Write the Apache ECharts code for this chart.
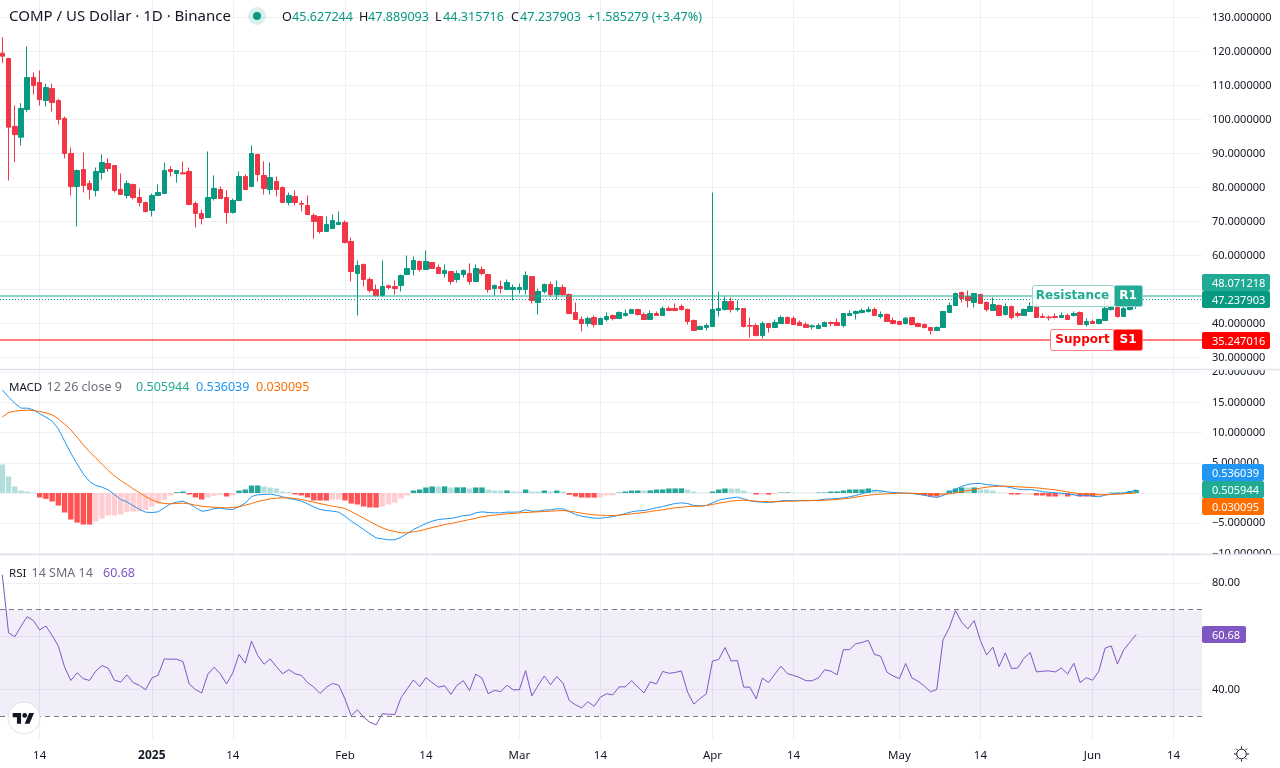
<!DOCTYPE html>
<html>
<head>
<meta charset="utf-8">
<title>COMP / US Dollar</title>
<style>
html, body { margin: 0; padding: 0; background: #fff; }
#main { width: 1280px; height: 768px; }
</style>
<script src="https://cdn.jsdelivr.net/npm/echarts@6/dist/echarts.min.js"></script>
</head>
<body>
<div id="main"></div>
<script>
// daily bars, Dec 8 2024 (index 0) to Jun 8 2025
var opens = [
119.51,117.94,97.94,94.80,102.94,112.35,110.88,105.59,109.12,105.59,
100.29,90.0,80.29,85.29,81.18,79.12,84.41,87.06,86.47,79.41,
77.65,80.88,77.06,75.59,73.24,77.65,78.24,85.29,84.12,84.31,
84.71,75.29,72.35,71.18,76.76,79.41,77.06,72.65,76.18,83.24,
80.29,89.71,83.53,79.41,81.76,80.0,75.59,77.35,75.29,74.71,
71.76,71.47,67.06,67.94,69.12,69.71,64.12,54.71,57.35,52.94,
50.0,48.24,51.08,50.88,51.18,54.41,55.88,58.24,55.88,57.94,
56.47,54.71,55.29,52.94,54.41,54.71,52.35,55.88,54.41,50.29,
50.88,50.0,50.0,50.0,50.0,53.82,46.18,49.41,51.47,48.53,
50.59,48.53,43.24,41.18,40.0,41.76,39.71,41.18,42.35,41.47,
42.35,42.94,44.12,42.65,41.18,42.94,42.35,44.41,44.41,45.0,
44.12,40.88,38.24,38.82,39.12,43.82,44.12,46.47,44.12,44.41,
39.41,39.41,36.47,40.0,38.82,40.0,41.76,41.47,40.29,39.71,
39.02,38.53,39.12,40.29,40.29,39.41,42.35,42.94,43.24,43.53,
44.12,42.06,42.65,40.88,40.59,40.0,41.76,40.0,39.71,38.82,
37.94,38.82,43.24,45.29,49.12,47.94,46.18,48.53,46.18,43.82,
45.29,42.65,45.0,42.94,42.35,43.53,45.0,42.06,41.86,42.06,
41.76,42.35,42.35,43.24,39.71,40.59,40.0,40.88,44.12,44.71,
42.06,44.12,45.627244];
var closes = [
118.63,97.75,95.59,103.24,112.35,110.0,105.88,109.41,105.0,100.0,
90.0,80.29,85.0,80.59,79.41,84.71,87.35,85.59,79.12,77.94,
81.18,77.06,75.59,72.94,77.65,78.53,85.0,84.71,85.0,84.02,
75.0,72.35,70.88,77.06,79.71,76.76,72.65,76.18,83.24,79.41,
90.0,83.82,79.71,82.94,79.41,75.59,77.65,75.59,75.10,72.06,
70.0,67.06,69.12,70.29,69.71,63.82,55.29,57.06,52.94,49.71,
48.24,50.88,50.59,50.29,54.12,56.18,58.53,55.88,58.24,56.18,
54.71,55.59,52.35,54.71,55.59,52.35,56.18,54.71,50.0,51.18,
50.29,52.06,50.59,50.59,54.12,46.76,49.41,51.47,48.53,50.59,
48.53,42.94,41.18,40.0,41.47,39.71,41.47,42.06,41.47,43.24,
42.94,44.12,42.65,41.18,42.94,42.35,44.41,43.82,43.82,44.12,
40.59,37.94,39.12,39.41,44.12,44.41,46.47,44.12,44.41,39.12,
39.22,36.47,40.0,38.82,40.29,41.76,40.0,39.71,39.41,38.82,
39.31,39.41,40.29,40.0,39.41,42.94,42.94,43.53,43.82,44.12,
42.35,42.65,40.59,40.0,39.71,41.57,39.71,39.12,38.82,37.94,
38.82,43.53,45.29,48.82,47.35,46.76,48.82,45.88,44.12,45.59,
42.35,45.0,41.76,42.35,44.12,45.0,41.76,41.76,41.67,41.76,
42.35,41.18,42.94,39.71,40.59,40.0,41.18,44.41,44.71,42.06,
44.41,45.78,47.237903];
var highs = [
124.22,118.14,104.12,104.80,121.47,113.82,114.41,110.49,110.49,106.08,
100.88,91.76,85.29,90.29,82.06,85.88,89.71,88.53,86.47,84.12,
82.06,81.18,79.71,75.88,78.24,80.88,87.35,86.18,85.0,87.65,
85.88,75.88,73.53,90.59,83.53,80.29,79.12,76.76,84.71,83.82,
92.35,90.0,87.65,87.35,83.24,80.29,78.53,79.12,76.18,77.65,
72.35,71.47,71.47,72.06,72.94,70.29,65.29,58.53,57.65,53.53,
51.47,58.53,51.47,52.65,54.41,60.0,59.71,58.53,61.47,57.94,
57.35,57.35,55.29,55.59,55.88,57.65,57.35,56.76,54.41,51.47,
52.65,52.94,51.47,51.76,55.29,53.82,50.29,51.76,52.35,52.65,
51.47,48.82,46.18,42.06,42.06,42.35,41.76,43.24,42.65,43.53,
44.12,44.12,44.12,43.24,43.82,43.53,45.0,45.0,45.88,45.59,
44.41,41.18,39.41,40.0,78.53,49.41,47.94,47.65,46.76,44.41,
41.76,40.0,40.59,40.0,41.18,42.35,42.06,42.06,40.88,40.29,
39.71,40.0,40.59,40.59,41.47,42.94,43.82,43.82,44.41,45.0,
44.71,43.53,42.94,41.76,40.88,41.86,41.76,40.29,40.0,38.82,
39.12,43.53,46.18,49.12,49.41,49.71,48.82,48.53,46.47,47.65,
45.59,45.88,45.29,43.53,44.41,46.18,46.18,42.94,42.35,42.94,
43.24,42.94,43.53,43.53,41.47,41.18,41.18,46.76,46.76,46.76,
47.25,46.76,47.889093];
var lows = [
116.57,82.06,87.45,92.35,102.16,107.35,104.12,103.82,102.35,98.53,
88.53,77.65,68.53,78.53,76.47,77.35,82.35,84.71,78.53,77.94,
76.76,76.47,74.41,72.65,71.47,77.65,78.24,83.24,81.47,83.82,
75.0,68.24,69.12,71.18,76.18,76.76,69.41,72.35,76.18,79.41,
80.29,81.76,77.94,77.94,77.35,75.59,74.71,74.71,72.94,72.06,
65.0,66.47,67.06,67.94,69.12,63.53,52.35,42.35,50.88,49.12,
47.94,47.94,50.0,48.53,49.41,54.41,54.12,55.29,55.88,56.18,
54.71,53.53,51.47,52.06,53.53,51.47,52.35,54.12,49.12,48.24,
48.82,50.0,46.76,48.82,48.53,45.88,42.65,48.82,47.94,47.06,
48.24,42.94,41.18,37.65,39.12,38.82,39.71,40.59,40.88,41.47,
42.06,42.94,42.35,41.18,41.18,42.35,42.35,43.82,43.82,43.82,
39.71,37.94,38.24,37.94,39.12,42.06,43.82,43.24,43.53,38.82,
35.88,36.18,35.59,37.35,38.82,40.0,40.0,39.71,39.41,38.82,
38.24,38.53,39.12,39.12,39.41,38.82,42.35,41.18,42.94,43.24,
42.35,41.47,40.59,39.71,39.71,39.71,39.41,39.12,38.53,36.76,
37.94,38.82,43.24,45.29,46.18,44.71,44.71,45.88,43.53,43.82,
42.35,42.35,41.18,41.76,42.35,43.53,41.76,41.76,40.88,41.47,
41.76,41.18,42.06,39.71,39.12,40.0,39.71,40.88,43.82,41.76,
42.06,43.82,44.315716];

// MACD pane
var macdLine = [
17.08,15.87,14.87,14.05,14.05,13.77,13.11,12.56,11.89,10.62,
8.58,6.60,4.83,3.17,1.90,1.24,0.97,0.52,-0.25,-1.08,
-1.46,-2.12,-2.68,-3.17,-3.23,-3.12,-2.46,-1.79,-1.52,-1.35,
-1.79,-2.40,-3.01,-2.90,-2.57,-2.51,-2.68,-2.73,-2.24,-1.68,
-0.58,-0.30,-0.25,-0.19,-0.36,-0.63,-0.91,-1.08,-1.35,-1.79,
-2.29,-2.73,-2.90,-3.01,-3.17,-3.84,-4.66,-5.33,-6.04,-6.76,
-7.42,-7.59,-7.75,-7.75,-7.31,-6.71,-6.04,-5.55,
-5.05,-4.66,-4.39,-4.28,-4.22,-4.00,-3.73,-3.67,-3.28,-3.12,
-3.23,-3.28,-3.28,-3.17,-3.17,-3.12,-2.79,-3.01,-3.01,-2.84,
-2.79,-2.62,-2.62,-3.06,-3.56,-3.84,-4.00,-4.17,-4.17,-4.06,
-3.89,-3.67,-3.39,-3.12,-2.95,-2.90,-2.68,-2.46,-2.24,-1.96,
-1.74,-1.63,-1.74,-2.07,-2.12,-2.07,-1.63,-1.19,-0.97,-0.80,
-0.69,-0.97,-1.30,-1.46,-1.52,-1.57,-1.46,-1.30,-1.24,-1.24,
-1.24,-1.24,-1.24,-1.19,-1.02,-0.97,-0.91,
-0.80,-0.63,-0.41,-0.14,0.19,0.41,0.36,0.19,0.08,0.03,
-0.03,-0.08,-0.19,-0.36,-0.58,-0.75,-0.41,0.03,0.63,1.08,
1.41,1.57,1.57,1.41,1.30,1.19,1.08,0.86,0.63,0.52,
0.58,0.41,0.19,0.14,0.03,-0.03,-0.14,-0.30,-0.47,-0.36,
-0.52,-0.63,-0.36,-0.14,-0.08,-0.03,0.19,0.536039];
var signalLine = [
12.56,13.33,13.55,13.66,13.71,13.66,13.49,13.27,12.94,12.28,
11.40,10.46,9.24,7.97,6.82,5.82,4.77,3.73,2.84,2.07,
1.41,0.69,0.08,-0.58,-1.13,-1.52,-1.74,-1.79,-1.74,-1.68,
-1.79,-2.01,-2.18,-2.29,-2.35,-2.40,-2.46,-2.40,-2.29,-2.01,
-1.74,-1.41,-1.19,-0.97,-0.86,-0.80,-0.80,-0.91,-1.08,-1.30,
-1.52,-1.74,-1.96,-2.18,-2.35,-2.57,-3.06,-3.61,-4.17,-4.72,
-5.27,-5.77,-6.15,-6.37,-6.60,-6.60,-6.43,-6.26,
-5.99,-5.71,-5.49,-5.22,-5.05,-4.83,-4.61,-4.39,-4.17,-3.95,
-3.78,-3.67,-3.56,-3.45,-3.39,-3.28,-3.23,-3.17,-3.12,-3.06,
-3.01,-2.95,-2.90,-3.01,-3.17,-3.34,-3.50,-3.61,-3.67,-3.73,
-3.73,-3.67,-3.56,-3.45,-3.34,-3.23,-3.06,-2.90,-2.79,-2.62,
-2.46,-2.35,-2.24,-2.18,-2.18,-2.07,-1.90,-1.68,-1.52,-1.35,
-1.24,-1.19,-1.24,-1.35,-1.41,-1.46,-1.46,-1.41,-1.35,-1.35,
-1.30,-1.30,-1.24,-1.24,-1.19,-1.13,-1.08,
-0.97,-0.86,-0.69,-0.52,-0.36,-0.25,-0.19,-0.14,-0.08,-0.03,
-0.03,-0.03,-0.08,-0.14,-0.19,-0.25,-0.19,-0.14,0.03,0.19,
0.41,0.58,0.80,0.97,1.08,1.13,1.13,1.08,1.02,0.97,
0.91,0.86,0.75,0.63,0.52,0.36,0.19,0.03,-0.14,-0.19,
-0.25,-0.30,-0.30,-0.25,-0.19,-0.14,-0.08,0.030095];
var macdHist = [
4.72,2.73,1.08,0.41,0.25,0.08,-0.74,-0.97,-1.41,-2.07,
-3.23,-4.39,-4.89,-5.22,-5.23,-4.72,-4.22,-3.73,-3.72,-3.56,
-3.12,-3.06,-3.05,-2.79,-2.24,-1.74,-1.08,-0.41,0.14,0.25,
-0.25,-0.74,-1.08,-0.74,-0.47,-0.30,-0.58,-0.41,0.41,0.58,
1.24,1.25,1.08,0.91,0.74,0.25,0.14,-0.25,-0.41,-0.74,
-1.24,-1.25,-1.26,-1.08,-1.07,-1.24,-1.74,-1.90,-2.24,-2.40,
-2.41,-2.24,-1.90,-1.59,-0.91,-0.41,0.41,0.58,0.91,1.08,
1.07,1.10,0.91,0.93,0.94,0.75,0.91,0.92,0.58,0.41,
0.40,0.42,0.25,0.24,0.58,0.25,0.24,0.41,0.25,0.41,
0.25,-0.30,-0.58,-0.75,-0.76,-0.77,-0.74,-0.41,-0.40,0.08,
0.25,0.41,0.42,0.41,0.43,0.58,0.59,0.75,0.76,0.77,
0.58,0.25,0.08,0.07,0.25,0.58,0.75,0.74,0.73,0.41,
0.08,-0.25,-0.24,-0.26,-0.20,0.08,0.09,0.08,0.07,0.06,
0.05,0.08,0.09,0.25,0.26,0.41,0.58,0.59,0.60,0.75,
0.58,0.41,0.08,0.07,0.06,0.02,-0.08,-0.25,-0.41,-0.58,
-0.59,-0.30,0.41,0.75,0.91,0.90,0.92,0.58,0.57,0.41,
0.08,0.07,-0.25,-0.26,-0.25,-0.24,-0.41,-0.42,-0.58,-0.59,
-0.41,-0.58,-0.41,-0.58,-0.59,-0.60,-0.41,-0.25,0.08,0.09,
0.10,0.33,0.505944];

// RSI pane
var rsiLine = [
83.1,61.3,59.8,63.8,67.4,65.9,62.4,63.9,60.3,56.3,
48.4,43.4,46.3,44.1,43.4,46.9,49.0,48.0,43.5,42.8,
45.5,42.6,41.6,39.9,44.3,45.4,51.5,51.4,51.4,50.5,
42.1,40.0,38.7,45.8,48.4,45.9,42.1,46.3,53.2,49.9,
58.2,52.8,49.5,51.5,48.6,45.9,47.5,45.9,45.3,42.6,
40.9,38.5,40.8,42.3,41.6,36.5,30.1,32.4,29.6,27.7,
26.7,30.9,30.7,30.6,36.9,40.3,43.6,41.1,
44.5,42.6,40.9,41.4,38.2,41.6,43.3,39.6,45.8,44.3,
38.4,39.7,39.2,41.6,39.9,39.9,47.1,37.6,41.5,45.1,
41.8,44.9,42.4,35.9,34.2,33.1,35.4,33.7,37.1,38.4,
38.0,41.0,41.0,43.3,41.0,38.7,42.9,42.1,46.8,46.1,
46.4,47.0,39.0,34.5,36.6,38.4,50.7,51.3,55.8,50.7,
50.9,40.9,40.9,36.5,44.3,42.6,45.8,48.8,46.0,45.3,
44.5,43.3,43.3,44.4,47.4,46.9,45.5,
55.0,55.0,57.2,57.7,58.5,53.2,52.5,46.5,45.1,44.1,
49.8,44.4,43.1,41.3,39.2,40.0,58.7,63.2,69.7,65.3,
62.8,65.9,58.4,53.0,55.9,48.6,53.8,47.9,48.1,51.8,
53.9,46.6,46.9,47.0,46.6,48.1,45.8,49.9,42.6,44.4,
43.5,46.8,55.5,56.4,49.6,54.9,57.8,60.68];

// levels and header values
var resistanceLevel = 48.071218;
var supportLevel = 35.247016;
var lastPrice = 47.237903;
var rsiUpper = 70;
var rsiLower = 30;

// axis ticks: x is the day index counted from Dec 8 2024
var tickDays = [6, 24, 37, 55, 68, 83, 96, 114, 127, 144, 157, 175, 188];
var tickLabels = ['14', '2025', '14', 'Feb', '14', 'Mar', '14', 'Apr', '14', 'May', '14', 'Jun', '14'];
var priceGrid = [30, 40, 50, 60, 70, 80, 90, 100, 110, 120, 130];
var priceTicks = [30, 40, 60, 70, 80, 90, 100, 110, 120, 130];
var macdGrid = [-10, -5, 0, 5, 10, 15, 20];
var macdTicks = [-10, -5, 5, 10, 15, 20];
var rsiGrid = [40, 60, 80];
var rsiTicks = [40, 80];

var UP = '#089981', DOWN = '#F23645', TEXT = '#131722', GRID = '#eef0f3';
var TEAL = '#22ab94', BLUE = '#2196f3', ORANGE = '#ff6d00', PURPLE = '#7e57c2';
var AXIS_FONT = 'Noto Sans';

function pairs(arr) {
	return arr.map(function(v, i) {
		return [i, v];
	});
}

var candleData = opens.map(function(o, i) {
	return [i, o, closes[i], lows[i], highs[i]];
});

// same rule the platform uses: strong colour while growing away from zero
var histData = macdHist.map(function(v, i) {
	var prev = i > 0 ? macdHist[i - 1] : v + 1;
	var color;
	if (v >= 0) {
		color = prev < v ? '#26a69a' : '#b2dfdb';
	} else {
		color = prev < v ? '#ffcdd2' : '#ff5252';
	}
	return { value: [i, v], itemStyle: { color: color } };
});

function xAxisOf(idx, showLabel) {
	return {
		type: 'value',
		gridIndex: idx,
		min: -0.37,
		max: 192.57,
		axisLine: { show: false },
		axisTick: { show: false, customValues: tickDays },
		splitLine: { show: true, lineStyle: { color: GRID, width: 1 } },
		axisLabel: {
			show: showLabel,
			customValues: tickDays,
			margin: 10,
			fontFamily: AXIS_FONT,
			fontSize: 11.5,
			color: TEXT,
			formatter: function(v) {
				var s = tickLabels[tickDays.indexOf(v)];
				return s == '2025' ? '{b|' + s + '}' : s;
			},
			rich: { b: { fontWeight: 'bold', fontSize: 12, fontFamily: AXIS_FONT, color: TEXT } }
		}
	};
}

function yAxisOf(idx, min, max, grid, ticks, digits) {
	return {
		type: 'value',
		gridIndex: idx,
		position: 'right',
		min: min,
		max: max,
		axisLine: { show: false },
		axisTick: { show: false, customValues: grid },
		splitLine: { show: true, lineStyle: { color: GRID, width: 1 } },
		axisLabel: {
			customValues: ticks,
			margin: 10,
			padding: [4, 0, 0, 0],
			fontFamily: AXIS_FONT,
			fontSize: 11,
			color: TEXT,
			formatter: function(v) {
				return v.toFixed(digits).replace('-', '\u2212');
			}
		}
	};
}

function text(x, y, s, fill, font, align) {
	return {
		type: 'text',
		z: 100,
		silent: true,
		style: { x: x, y: y, text: s, fill: fill, font: font, textAlign: align || 'left', textVerticalAlign: 'middle' }
	};
}

function box(x, y, w, h, fill, stroke) {
	return {
		type: 'rect',
		z: 99,
		silent: true,
		shape: { x: x, y: y, width: w, height: h, r: 2 },
		style: { fill: fill, stroke: stroke || null, lineWidth: 1 }
	};
}

function priceTag(y, w, color, s) {
	return [box(1202, y, w, 17, color), text(1212, y + 9.5, s, '#fff', '11px "' + AXIS_FONT + '"')];
}

function stroke(x1, y1, x2, y2) {
	return {
		type: 'line', z: 99, silent: true,
		shape: { x1: x1, y1: y1, x2: x2, y2: y2 },
		style: { stroke: TEXT, lineWidth: 1 }
	};
}

var HEAD = '12.6px "Noto Sans"';
var AXF = '12.5px "Noto Sans"';
var NAME = '11.5px "Noto Sans"';
var LABEL = 'bold 12px "DejaVu Sans"';
var graphicEls = [
	// clip the axis labels at the pane borders
	{ type: 'rect', z: 98, silent: true, shape: { x: 1203, y: 364, width: 77, height: 6 }, style: { fill: '#fff' } },
	{ type: 'rect', z: 98, silent: true, shape: { x: 1203, y: 555, width: 77, height: 8 }, style: { fill: '#fff' } },
	{ type: 'line', z: 98, silent: true, shape: { x1: 0, y1: 369.5, x2: 1280, y2: 369.5 }, style: { stroke: '#e0e3eb', lineWidth: 1.5 } },
	{ type: 'line', z: 98, silent: true, shape: { x1: 0, y1: 554.5, x2: 1280, y2: 554.5 }, style: { stroke: '#e0e3eb', lineWidth: 1.5 } },

	// header
	text(9, 17, 'COMP / US Dollar \u00b7 1D \u00b7 Binance', TEXT, '15px "Noto Sans"'),
	{ type: 'circle', z: 99, silent: true, shape: { cx: 257, cy: 16, r: 9 }, style: { fill: 'rgba(8,153,129,0.15)' } },
	{ type: 'circle', z: 99, silent: true, shape: { cx: 257, cy: 16, r: 4 }, style: { fill: UP } },
	text(282, 17, 'O', TEXT, HEAD), text(292, 17, opens[182].toFixed(6), UP, HEAD),
	text(359, 17, 'H', TEXT, HEAD), text(368, 17, highs[182].toFixed(6), UP, HEAD),
	text(435, 17, 'L', TEXT, HEAD), text(443, 17, lows[182].toFixed(6), UP, HEAD),
	text(511, 17, 'C', TEXT, HEAD), text(520, 17, closes[182].toFixed(6), UP, HEAD),
	text(587.5, 17, '+1.585279 (+3.47%)', UP, HEAD),

	// indicator legends
	text(9, 387.5, 'MACD', TEXT, NAME),
	text(46.5, 387.5, '12 26 close 9', '#6a6d78', AXF),
	text(136, 387.5, macdHist[182].toFixed(6), TEAL, AXF),
	text(196, 387.5, macdLine[182].toFixed(6), BLUE, AXF),
	text(256, 387.5, signalLine[182].toFixed(6), ORANGE, AXF),
	text(9, 573.5, 'RSI', TEXT, NAME),
	text(31.5, 573.5, '14 SMA 14', '#6a6d78', AXF),
	text(103, 573.5, rsiLine[182].toFixed(2), PURPLE, AXF),

	// resistance and support labels
	box(1032.5, 285.5, 82, 21, 'rgba(255,255,255,0.82)', '#91d5ca'),
	box(1114.5, 285.5, 28, 21, TEAL, '#91d5ca'),
	text(1072.5, 295.5, 'Resistance', TEAL, LABEL, 'center'),
	text(1128, 295.5, 'R1', '#fff', LABEL, 'center'),
	box(1050.5, 329.5, 64, 21, '#fff', '#ff8080'),
	box(1113.5, 329.5, 29, 21, '#ff0000', '#ff8080'),
	text(1082.5, 339.5, 'Support', '#ff0000', LABEL, 'center'),
	text(1128, 339.5, 'S1', '#fff', LABEL, 'center'),

	// logo
	{ type: 'circle', z: 99, silent: true, shape: { cx: 24, cy: 718, r: 16 }, style: { fill: '#fff', stroke: '#e0e3eb', lineWidth: 1 } },
	{ type: 'polygon', z: 100, silent: true, shape: { points: [[21.1, 723.8], [16.9, 723.8], [16.9, 717.2], [12.7, 717.2], [12.7, 713], [21.1, 713]] }, style: { fill: TEXT } },
	{ type: 'polygon', z: 100, silent: true, shape: { points: [[29.5, 723.8], [24.7, 723.8], [29.2, 713], [34, 713]] }, style: { fill: TEXT } },
	{ type: 'circle', z: 100, silent: true, shape: { cx: 24.7, cy: 715.4, r: 2.4 }, style: { fill: TEXT } },

	// settings icon
	{ type: 'circle', z: 99, silent: true, shape: { cx: 1241.5, cy: 754, r: 4.8 }, style: { fill: 'none', stroke: TEXT, lineWidth: 1 } },
	stroke(1241.5, 746.5, 1241.5, 748.5), stroke(1241.5, 759.5, 1241.5, 761.5),
	stroke(1234, 754, 1236, 754), stroke(1247, 754, 1249, 754),
	stroke(1236.2, 748.7, 1237.6, 750.1), stroke(1245.4, 757.9, 1246.8, 759.3),
	stroke(1236.2, 759.3, 1237.6, 757.9), stroke(1245.4, 750.1, 1246.8, 748.7)
];

graphicEls = graphicEls.concat(
	priceTag(274, 68, TEAL, resistanceLevel.toFixed(6)),
	priceTag(291, 68, UP, lastPrice.toFixed(6)),
	priceTag(332, 68, '#ff0000', supportLevel.toFixed(6)),
	priceTag(464, 62, BLUE, macdLine[182].toFixed(6)),
	priceTag(481, 62, TEAL, macdHist[182].toFixed(6)),
	priceTag(498, 62, ORANGE, signalLine[182].toFixed(6)),
	priceTag(626, 44, PURPLE, rsiLine[182].toFixed(2))
);

var chart = echarts.init(document.getElementById('main'), null, { renderer: 'canvas' });
chart.setOption({
	animation: false,
	backgroundColor: '#fff',
	grid: [
		{ left: 0, top: 0.5, width: 1202, height: 369 },
		{ left: 0, top: 370.5, width: 1202, height: 184 },
		{ left: 0, top: 555.5, width: 1202, height: 184 }
	],
	xAxis: [xAxisOf(0, false), xAxisOf(1, false), xAxisOf(2, true)],
	yAxis: [
		yAxisOf(0, 26.47, 135, priceGrid, priceTicks, 6),
		yAxisOf(1, -10.18, 20.28, macdGrid, macdTicks, 6),
		yAxisOf(2, 21.2, 90.4, rsiGrid, rsiTicks, 2)
	],
	series: [{
		name: 'COMP',
		type: 'candlestick',
		xAxisIndex: 0,
		yAxisIndex: 0,
		barWidth: 5,
		itemStyle: { color: UP, color0: DOWN, borderColor: UP, borderColor0: DOWN, borderWidth: 1 },
		data: candleData,
		markLine: {
			silent: true,
			symbol: 'none',
			animation: false,
			label: { show: false },
			data: [
				{ yAxis: resistanceLevel, lineStyle: { color: TEAL, opacity: 0.5, width: 2, type: 'solid' } },
				{ yAxis: supportLevel, lineStyle: { color: '#ff0000', opacity: 0.5, width: 2, type: 'solid' } },
				{ yAxis: lastPrice, lineStyle: { color: UP, width: 1, type: [1, 2] } }
			]
		}
	}, {
		name: 'Histogram',
		type: 'bar',
		xAxisIndex: 1,
		yAxisIndex: 1,
		barWidth: 5.4,
		data: histData
	}, {
		name: 'MACD',
		type: 'line',
		xAxisIndex: 1,
		yAxisIndex: 1,
		showSymbol: false,
		lineStyle: { color: BLUE, width: 1 },
		data: pairs(macdLine)
	}, {
		name: 'Signal',
		type: 'line',
		xAxisIndex: 1,
		yAxisIndex: 1,
		showSymbol: false,
		lineStyle: { color: ORANGE, width: 1 },
		data: pairs(signalLine)
	}, {
		name: 'RSI',
		type: 'line',
		xAxisIndex: 2,
		yAxisIndex: 2,
		showSymbol: false,
		lineStyle: { color: PURPLE, width: 1 },
		data: pairs(rsiLine),
		markArea: {
			silent: true,
			itemStyle: { color: 'rgba(126,87,194,0.1)' },
			data: [[{ yAxis: rsiUpper }, { yAxis: rsiLower }]]
		},
		markLine: {
			silent: true,
			symbol: 'none',
			label: { show: false },
			lineStyle: { color: '#787b86', width: 1, type: [5, 4] },
			data: [{ yAxis: rsiUpper }, { yAxis: rsiLower }]
		}
	}],
	graphic: graphicEls
});
</script>
</body>
</html>
